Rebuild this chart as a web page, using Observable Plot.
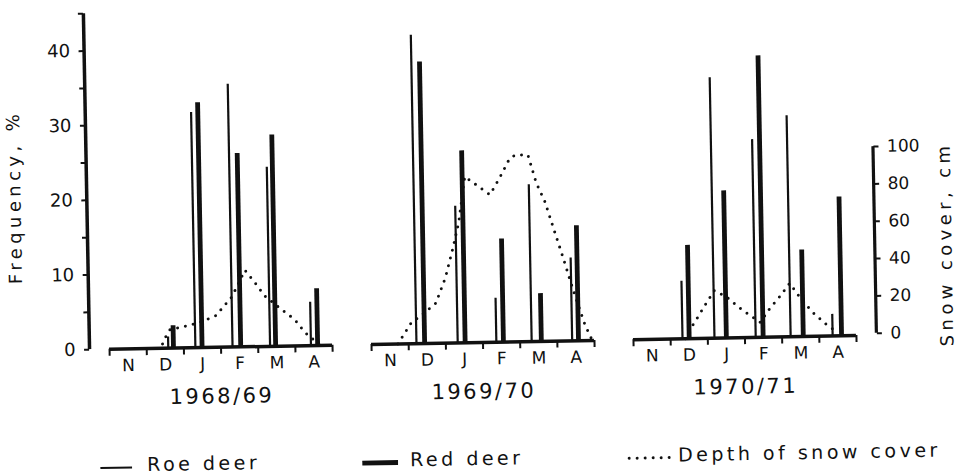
<!DOCTYPE html>
<html>
<head>
<meta charset="utf-8">
<script src="https://cdn.jsdelivr.net/npm/d3@7"></script>
<script src="https://cdn.jsdelivr.net/npm/@observablehq/plot@0.6"></script>
<style>
  html, body { margin: 0; padding: 0; background: #fff; }
  #fig { position: relative; width: 962px; height: 476px; overflow: hidden; background: #fff; }
  #inner { position: absolute; left: 0; top: 0; width: 962px; height: 476px;
           transform-origin: 480px 343px; transform: rotate(-1.05deg);
           font-family: "DejaVu Sans", sans-serif; color: #111; }
  .leg { position: absolute; top: 449px; font-size: 19px; line-height: 19px; letter-spacing: 3.5px; white-space: nowrap; }
  .sym { position: absolute; top: 456px; }
</style>
</head>
<body>
<div id="fig"><div id="inner"><div id="chart"></div><div id="legend"></div></div></div>
<script>
// ---------- data ----------
const seasons = ["1968/69", "1969/70", "1970/71"];
const months = ["N", "D", "J", "F", "M", "A"];
const freqTicks = [0, 10, 20, 30, 40];
const snowTicks = [0, 20, 40, 60, 80, 100];

// [month position (0 = start of November, 6 = end of April), frequency %]
const roe6869 = [[1.58, 1.5], [2.31, 31.5], [3.31, 35.2], [4.32, 24.0], [5.42, 5.8]];
const red6869 = [[1.72, 3.0], [2.49, 32.8], [3.53, 25.9], [4.47, 28.3], [5.60, 7.6]];
const roe6970 = [[1.21, 41.3], [2.32, 18.3], [3.36, 5.9], [4.31, 21.0], [5.40, 11.1]];
const red6970 = [[1.43, 37.7], [2.52, 25.7], [3.55, 13.8], [4.57, 6.4], [5.57, 15.4]];
const roe7071 = [[1.32, 7.7], [2.18, 34.9], [3.29, 26.5], [4.23, 29.6], [5.36, 2.9]];
const red7071 = [[1.50, 12.5], [2.50, 19.7], [3.49, 37.7], [4.57, 11.6], [5.60, 18.6]];

// [month position, depth of snow cover in cm]
const snow6869 = [[1.25, 0], [1.42, 2], [1.55, 7.5], [1.64, 10], [1.91, 11], [2.44, 13.5], [2.88, 17],
                  [3.32, 27], [3.68, 41], [3.95, 34], [4.2, 27], [4.56, 21], [5.0, 14], [5.27, 7],
                  [5.44, 4], [5.67, 0]];
const snow6970 = [[0.71, 0], [1.07, 11], [1.38, 15.5], [1.75, 21.5], [2.02, 35], [2.24, 51], [2.41, 65],
                  [2.59, 89], [3.26, 79], [3.53, 88], [3.8, 98], [3.95, 100], [4.3, 100], [4.51, 85],
                  [4.73, 75], [4.96, 60], [5.19, 45], [5.41, 30], [5.58, 19], [5.76, 8], [5.94, 0]];
const snow7071 = [[1.40, 0], [1.53, 5], [1.76, 12], [1.98, 19], [2.2, 25.5], [2.52, 22], [2.93, 15],
                  [3.42, 8], [3.69, 15.6], [3.96, 21.7], [4.23, 28.7], [4.55, 19.5], [4.86, 12.4],
                  [5.22, 5.8], [5.49, 2]];

// the right-hand snow axis: 100 cm spans 25 units of the frequency axis
const CM_TO_PCT = 0.25;

// ---------- tables ----------
const rows = (lists, key) => lists.flatMap((list, i) =>
  list.map(([m, v]) => ({season: seasons[i], m, [key]: v})));
const roeRows = rows([roe6869, roe6970, roe7071], "freq");
const redRows = rows([red6869, red6970, red7071], "freq");
const snowRows = rows([snow6869, snow6970, snow7071], "cm");

const INK = "#111";
const xDomain = [0, months.length];
const yDomain = [0, 45];

const chart = Plot.plot({
  width: 962,
  height: 410,
  marginTop: 6,
  marginBottom: 68,
  marginLeft: 108,
  marginRight: 104,
  style: {fontFamily: "'DejaVu Sans', sans-serif", color: INK, background: "white", overflow: "visible"},
  fx: {domain: seasons, paddingInner: 0.148, paddingOuter: 0},
  x: {domain: xDomain},
  y: {domain: yDomain},
  marks: [
    // left frequency axis line and ticks (first panel only)
    Plot.ruleX([{season: seasons[0]}], {fx: "season", x: () => xDomain[0], y1: () => yDomain[0], y2: () => yDomain[1],
      dx: -20, stroke: INK, strokeWidth: 3.5}),
    Plot.axisY(d3.range(0, 46, 5), {anchor: "left", tickSize: 5, fill: "none", stroke: INK, strokeWidth: 2, dx: -20, label: null}),
    Plot.axisY(freqTicks, {anchor: "left", tickSize: 0, tickPadding: 14, dx: -20, fontSize: 18, label: null}),
    // right snow axis (last panel only)
    Plot.ruleX([{season: seasons[2]}], {fx: "season", x: () => xDomain[1],
      y1: () => snowTicks[0] * CM_TO_PCT, y2: () => snowTicks[snowTicks.length - 1] * CM_TO_PCT,
      dx: 20, dy: -2, stroke: INK, strokeWidth: 3.2}),
    Plot.axisY(snowTicks.map(c => c * CM_TO_PCT), {anchor: "right", tickSize: 5, tickPadding: 9, dx: 20, dy: -2,
      strokeWidth: 2, fontSize: 17, tickFormat: d => Math.round(d / CM_TO_PCT), label: null}),
    // month axis
    Plot.ruleY([0], {stroke: INK, strokeWidth: 3.5}),
    Plot.axisX(d3.range(0, months.length + 1), {tickSize: 7, fill: "none", stroke: INK, strokeWidth: 2, label: null}),
    Plot.axisX(months.map((_, i) => i + 0.5), {tickSize: 0, tickPadding: 10, fontSize: 17,
      tickFormat: d => months[Math.floor(d)], label: null}),
    Plot.axisFx({anchor: "bottom", tickSize: 0, tickPadding: 41, fontSize: 21, label: null}),
    // frequencies
    Plot.ruleX(roeRows, {fx: "season", x: "m", y: "freq", stroke: INK, strokeWidth: 2.2}),
    Plot.ruleX(redRows, {fx: "season", x: "m", y: "freq", stroke: INK, strokeWidth: 4.8}),
    // snow depth
    Plot.line(snowRows, {fx: "season", x: "m", y: d => d.cm * CM_TO_PCT, stroke: INK, strokeWidth: 3,
      strokeDasharray: "0 8", strokeLinecap: "round"}),
    // axis titles
    Plot.text([{season: seasons[0], t: "Frequency, %"}], {fx: "season", text: "t", frameAnchor: "left",
      textAnchor: "middle", rotate: -90, dx: -92, dy: 14, fontSize: 18}),
    Plot.text([{season: seasons[2], t: "Snow cover, cm"}], {fx: "season", text: "t", frameAnchor: "right",
      textAnchor: "middle", rotate: -90, dx: 91, dy: 78, fontSize: 18})
  ]
});

const svg = d3.select(chart);
svg.selectAll('g[aria-label="fx-axis tick label"] text').attr("letter-spacing", "2.5px");
svg.selectAll('g[aria-label="y-axis tick label"][text-anchor="end"] text').attr("letter-spacing", "3px");
svg.selectAll("text").filter(function () {
  return this.textContent === "Frequency, %" || this.textContent === "Snow cover, cm";
}).attr("letter-spacing", "4.4px");
document.getElementById("chart").appendChild(chart);

// ---------- legend ----------
const legendItems = [
  {label: "Roe deer", symLeft: 98, symW: 32, textLeft: 145, width: 2, dash: null},
  {label: "Red deer", symLeft: 360, symW: 36, textLeft: 408, width: 4.8, dash: null},
  {label: "Depth of snow cover", symLeft: 625, symW: 46, textLeft: 676, width: 3, dash: "0 8"}
];
const legend = d3.select("#legend");
for (const it of legendItems) {
  const s = legend.append("svg").attr("class", "sym").style("left", it.symLeft + "px")
    .attr("width", it.symW).attr("height", 10);
  s.append("line").attr("x1", it.dash ? 2 : 0).attr("x2", it.symW - (it.dash ? 2 : 0)).attr("y1", 5).attr("y2", 5)
    .attr("stroke", INK).attr("stroke-width", it.width)
    .attr("stroke-dasharray", it.dash).attr("stroke-linecap", it.dash ? "round" : "butt");
  legend.append("div").attr("class", "leg").style("left", it.textLeft + "px").text(it.label);
}
</script>
</body>
</html>
